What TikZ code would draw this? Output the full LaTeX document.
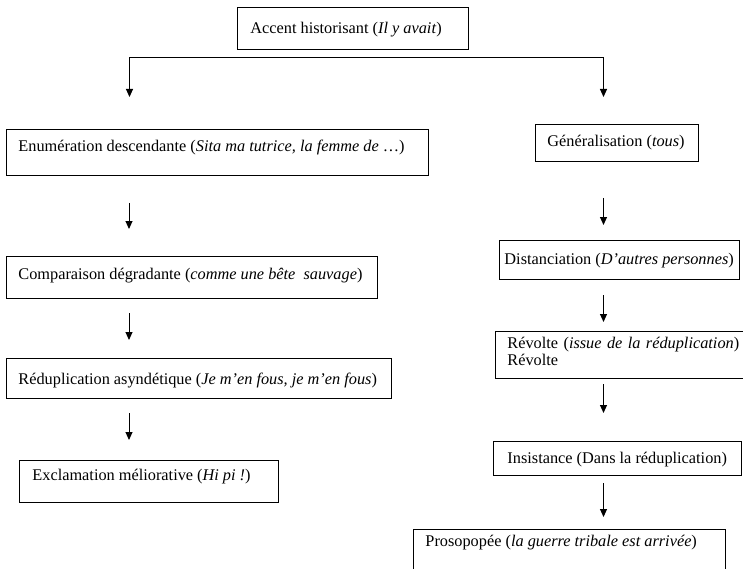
\documentclass[tikz,border=0pt]{standalone}
\usepackage{fontspec}
\setmainfont{Liberation Serif}
\usetikzlibrary{arrows.meta}

% a line of given width (pt) with the text set after a left padding (pt)
\newcommand{\fixline}[3]{\makebox[#1pt][l]{\hspace*{#2pt}#3}}
% a line of natural width with left and right padding (pt)
\newcommand{\padded}[3]{\hspace*{#1pt}#3\hspace*{#2pt}}

\begin{document}
\begin{tikzpicture}[x=1pt, y=-1pt,
  box/.style={draw, line width=0.9pt, anchor=north west, inner sep=0pt,
              font=\fontsize{16.3}{17}\selectfont},
  arr/.style={line width=1pt, -{Triangle[width=7pt,length=8pt]}},
  splitarr/.style={line width=1pt,
     {Triangle[width=7pt,length=8pt]}-{Triangle[width=7pt,length=8pt]}}]

\useasboundingbox (0,0) rectangle (743,569);
\clip (0,0) rectangle (743,569);

% ---- boxes ----
\node[box, text height=26pt, text depth=16pt] (accent) at (237,7)
  {\fixline{231}{13}{Accent historisant (\textit{Il y avait})}};

\node[box, text height=22pt, text depth=24pt] (enum) at (6,129)
  {\fixline{422}{12}{Enumération descendante (\textit{Sita ma tutrice, la femme de} …)}};
\node[box, text height=23pt, text depth=19pt] (comp) at (6,256)
  {\padded{12}{15}{Comparaison dégradante (\textit{comme une bête\ \ sauvage})}};
\node[box, text height=26pt, text depth=14pt] (redup) at (6,358)
  {\padded{12}{14}{Réduplication asyndétique (\textit{Je m’en fous, je m’en fous})}};
\node[box, text height=20pt, text depth=22pt] (excl) at (19,460)
  {\fixline{259}{13}{Exclamation méliorative (\textit{Hi pi !})}};

\node[box, text height=22pt, text depth=15pt] (gen) at (535,124)
  {\fixline{163}{12}{Généralisation (\textit{tous})}};
\node[box, text height=24pt, text depth=15pt] (dist) at (499,240)
  {\fixline{240}{5}{Distanciation (\textit{D’autres personnes})}};
\node[box, text width=270pt, align=left, text height=17pt, text depth=30pt] (revolte) at (495,331)
  {\mbox{\hspace*{12pt}Révolte (\textit{issue de la réduplication})}\\\mbox{\hspace*{12pt}Révolte}};
\node[box, text height=22pt, text depth=12pt] (insist) at (493,441)
  {\fixline{248}{14}{Insistance (Dans la réduplication)}};
\node[box, text height=17pt, text depth=43pt] (proso) at (413,529)
  {\fixline{312}{12}{Prosopopée (\textit{la guerre tribale est arrivée})}};

% ---- split below the title ----
\coordinate (splitL) at (129.5,57.5);
\coordinate (splitR) at (603.5,57.5);
\coordinate (tipL) at (129.5,97);
\coordinate (tipR) at (603.5,97);
\draw[splitarr] (tipL) -- (splitL) -- (splitR) -- (tipR);

% ---- left column arrows ----
\coordinate (l1a) at (129,203); \coordinate (l1b) at (129,229);
\coordinate (l2a) at (129,313); \coordinate (l2b) at (129,340);
\coordinate (l3a) at (129,413); \coordinate (l3b) at (129,440);
\draw[arr] (l1a) -- (l1b);
\draw[arr] (l2a) -- (l2b);
\draw[arr] (l3a) -- (l3b);

% ---- right column arrows ----
\coordinate (r1a) at (603.5,198); \coordinate (r1b) at (603.5,225);
\coordinate (r2a) at (603.5,295); \coordinate (r2b) at (603.5,322);
\coordinate (r3a) at (603.5,384); \coordinate (r3b) at (603.5,413);
\coordinate (r4a) at (603.5,483); \coordinate (r4b) at (603.5,517);
\draw[arr] (r1a) -- (r1b);
\draw[arr] (r2a) -- (r2b);
\draw[arr] (r3a) -- (r3b);
\draw[arr] (r4a) -- (r4b);

\end{tikzpicture}
\end{document}
